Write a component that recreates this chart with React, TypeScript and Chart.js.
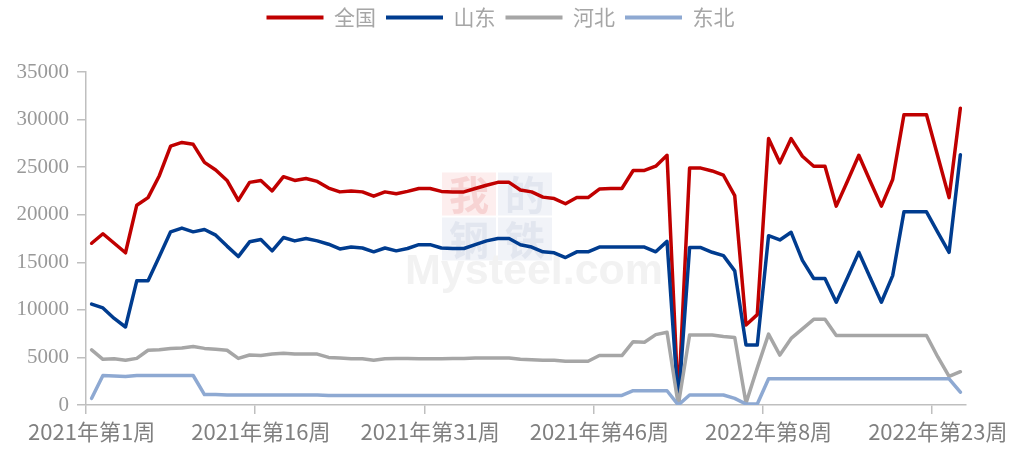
import React, { useEffect, useRef } from 'react';
import { Chart, registerables } from 'chart.js';

Chart.register(...registerables);

// Category labels: 2021 weeks 1-53, 2022 weeks 1-25
const categories: string[] = [];
for (let w = 1; w <= 53; w++) categories.push(`2021年第${w}周`);
for (let w = 1; w <= 25; w++) categories.push(`2022年第${w}周`);
const labelEvery = 15;

const seriesNames = ['全国', '山东', '河北', '东北'];

const national = [
  17000, 18000, 17000, 16000, 21000, 21800, 24100, 27200, 27600, 27400,
  25500, 24700, 23600, 21500, 23400, 23600, 22500, 24000, 23600, 23800,
  23500, 22800, 22400, 22500, 22400, 21950, 22400, 22200, 22450, 22750,
  22750, 22450, 22400, 22400, 22750, 23100, 23400, 23400, 22600, 22400,
  21850, 21700, 21150, 21800, 21800, 22700, 22750, 22750, 24650, 24650,
  25100, 26250, 200, 24900, 24900, 24600, 24150, 22000, 8400, 9500,
  28000, 25450, 28000, 26150, 25100, 25100, 20900, 23550, 26250, 23550,
  20900, 23700, 30500, 30500, 30500, 26150, 21800, 31200,
];

const shandong = [
  10600, 10200, 9100, 8200, 13050, 13050, 15600, 18200, 18600, 18200,
  18450, 17850, 16700, 15600, 17150, 17400, 16200, 17600, 17250, 17500,
  17250, 16900, 16400, 16600, 16500, 16100, 16500, 16200, 16450, 16850,
  16850, 16500, 16450, 16450, 16850, 17250, 17500, 17500, 16850, 16600,
  16100, 16000, 15500, 16100, 16100, 16600, 16600, 16600, 16600, 16600,
  16100, 17200, 100, 16550, 16550, 16050, 15700, 14100, 6300, 6300,
  17800, 17350, 18150, 15200, 13300, 13300, 10800, 13400, 16050, 13400,
  10800, 13600, 20300, 20300, 20300, 18150, 16050, 26300,
];

const hebei = [
  5800, 4800, 4850, 4700, 4900, 5750, 5800, 5950, 6000, 6150,
  5950, 5850, 5750, 4900, 5250, 5200, 5350, 5450, 5350, 5350,
  5350, 5000, 4950, 4850, 4850, 4700, 4850, 4900, 4900, 4850,
  4850, 4850, 4900, 4900, 4950, 4950, 4950, 4950, 4800, 4750,
  4700, 4700, 4600, 4600, 4600, 5200, 5200, 5200, 6650, 6600,
  7400, 7650, 0, 7350, 7350, 7350, 7200, 7100, 200, 3900,
  7450, 5250, 7000, 8000, 9000, 9000, 7300, 7300, 7300, 7300,
  7300, 7300, 7300, 7300, 7300, 5050, 3000, 3500,
];

const northeast = [
  700, 3100, 3050, 3000, 3100, 3100, 3100, 3100, 3100, 3100,
  1100, 1100, 1050, 1050, 1050, 1050, 1050, 1050, 1050, 1050,
  1050, 1000, 1000, 1000, 1000, 1000, 1000, 1000, 1000, 1000,
  1000, 1000, 1000, 1000, 1000, 1000, 1000, 1000, 1000, 1000,
  1000, 1000, 1000, 1000, 1000, 1000, 1000, 1000, 1500, 1500,
  1500, 1500, 0, 1050, 1050, 1050, 1050, 700, 100, 100,
  2750, 2750, 2750, 2750, 2750, 2750, 2750, 2750, 2750, 2750,
  2750, 2750, 2750, 2750, 2750, 2750, 2750, 1350,
];

const seriesValues = [national, shandong, hebei, northeast];
const seriesColors = ['#C00000', '#003C8F', '#A6A6A6', '#8EA9D2'];

const yMin = 0;
const yMax = 35000;
const yStep = 5000;

const axisColor = '#BFBFBF';

const watermarkPlugin = {
  id: 'watermark',
  beforeDatasetsDraw(chart: any) {
    const { ctx, chartArea } = chart;
    const cx = (chartArea.left + chartArea.right) / 2;
    const cy = (chartArea.top + chartArea.bottom) / 2;
    ctx.save();
    const size = 54;
    const h = 43;
    const ox = cx - 84;
    const oy = cy - 66;
    const cells = [
      { dx: 0, dy: 0, bg: '#fdeeee', fg: '#f7d3d3', ch: '我' },
      { dx: size + 2, dy: 0, bg: '#f1f3f8', fg: '#e2e6ef', ch: '的' },
      { dx: 0, dy: h + 2, bg: '#f1f3f8', fg: '#e2e6ef', ch: '钢' },
      { dx: size + 2, dy: h + 2, bg: '#f1f3f8', fg: '#e2e6ef', ch: '铁' },
    ];
    cells.forEach((c) => {
      ctx.fillStyle = c.bg;
      ctx.fillRect(ox + c.dx, oy + c.dy, size, h);
      ctx.fillStyle = c.fg;
      ctx.font = 'bold 40px "Noto Sans CJK SC", sans-serif';
      ctx.textAlign = 'center';
      ctx.textBaseline = 'middle';
      ctx.fillText(c.ch, ox + c.dx + size / 2, oy + c.dy + h / 2 + 1);
    });
    ctx.fillStyle = '#f2f2f2';
    ctx.font = 'bold 43px "Liberation Sans", Arial, sans-serif';
    ctx.textAlign = 'left';
    ctx.textBaseline = 'alphabetic';
    ctx.fillText('Mysteel.com', cx - 121, cy + 45);
    ctx.restore();
  },
};

// Nudge the legend to the same place as in the reference
const legendShiftPlugin = {
  id: 'legendShift',
  afterLayout(chart: any) {
    const lg = chart.legend;
    if (lg) {
      lg.top -= 34;
      lg.bottom -= 34;
      lg.left += 17.5;
      lg.right += 17.5;
    }
  },
};

export default function App() {
  const canvasRef = useRef<HTMLCanvasElement | null>(null);

  useEffect(() => {
    if (!canvasRef.current) return;
    const datasets = seriesNames.map((name, i) => ({
      label: name,
      data: seriesValues[i],
      borderColor: seriesColors[i],
      backgroundColor: seriesColors[i],
      borderWidth: 3.5,
      pointRadius: 0,
      pointHoverRadius: 0,
      tension: 0,
      fill: false,
      borderJoinStyle: 'round' as const,
      borderCapStyle: 'round' as const,
      order: seriesNames.length - 1 - i,
    }));

    const chart = new Chart(canvasRef.current, {
      type: 'line',
      data: { labels: categories, datasets },
      plugins: [watermarkPlugin, legendShiftPlugin],
      options: {
        responsive: false,
        animation: false,
        events: [],
        layout: { padding: { top: 31, left: 0, right: 47, bottom: 0 } },
        plugins: {
          tooltip: { enabled: false },
          legend: {
            position: 'top',
            labels: {
              boxWidth: 57,
              boxHeight: 4,
              padding: 10,
              color: '#A6A6A6',
              font: { family: '"Noto Sans CJK SC", sans-serif', size: 21 },
              sort: (a: any, b: any) => a.datasetIndex - b.datasetIndex,
              generateLabels: (ch: any) =>
                Chart.defaults.plugins.legend.labels
                  .generateLabels(ch)
                  .map((l: any) => ({
                    ...l,
                    fillStyle: seriesColors[l.datasetIndex],
                    strokeStyle: seriesColors[l.datasetIndex],
                    lineWidth: 0,
                  })),
            },
          },
        },
        scales: {
          x: {
            type: 'category',
            offset: true,
            afterFit: (scale: any) => {
              scale.height = 45;
            },
            grid: {
              display: true,
              drawOnChartArea: false,
              drawTicks: true,
              tickLength: 9,
              offset: true,
              lineWidth: 1.5,
              color: (ctx: any) => (ctx.index % labelEvery === 0 ? axisColor : 'rgba(0,0,0,0)'),
            },
            border: { display: true, color: axisColor, width: 1.5 },
            ticks: {
              autoSkip: false,
              maxRotation: 0,
              minRotation: 0,
              padding: 4,
              color: '#808080',
              font: { family: '"Noto Sans CJK SC", sans-serif', size: 22 },
              callback: (_v: any, i: number) => (i % labelEvery === 0 ? categories[i] : ''),
            },
          },
          y: {
            min: yMin,
            max: yMax,
            afterFit: (scale: any) => {
              scale.width = 86;
            },
            grid: {
              display: true,
              drawOnChartArea: false,
              drawTicks: true,
              tickLength: 9,
              lineWidth: 1.5,
              color: axisColor,
            },
            border: { display: true, color: axisColor, width: 1.5 },
            ticks: {
              stepSize: yStep,
              padding: 8,
              color: '#999999',
              font: { family: '"Liberation Serif", "Times New Roman", serif', size: 21 },
              callback: (v: any) => String(v),
            },
          },
        },
      },
    });
    return () => chart.destroy();
  }, []);

  return (
    <div style={{ position: 'fixed', left: 0, top: 0, width: 1013, height: 450, background: '#fff' }}>
      <canvas ref={canvasRef} width={1013} height={450} style={{ display: 'block', width: 1013, height: 450 }} />
    </div>
  );
}
